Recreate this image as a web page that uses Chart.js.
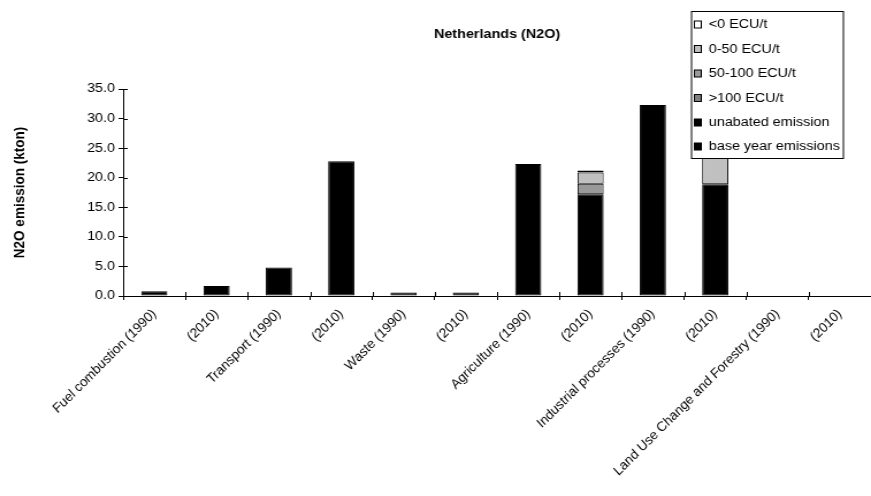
<!DOCTYPE html>
<html>
<head>
<meta charset="utf-8">
<script src="https://cdn.jsdelivr.net/npm/chart.js@4/dist/chart.umd.min.js"></script>
<style>
  html, body { margin: 0; padding: 0; background: #fff; }
  #wrap { position: relative; width: 871px; height: 496px; overflow: hidden; }
  /* the drawing surface is laid out narrower and shown at full width */
  #c { width: 871px; height: 496px; display: block; }
</style>
</head>
<body>
<div id="wrap"><canvas id="c" width="757" height="496" style="width:871px;height:496px"></canvas></div>
<script>
// Sector categories (base year 1990 and projection 2010)
const categories = [
  'Fuel combustion (1990)', '(2010)',
  'Transport (1990)', '(2010)',
  'Waste (1990)', '(2010)',
  'Agriculture (1990)', '(2010)',
  'Industrial processes (1990)', '(2010)',
  'Land Use Change and Forestry (1990)', '(2010)'
];

// N2O emissions, kton
const baseYearEmissions = [0.8, 0, 4.8, 0, 0.6, 0, 22.3, 0, 32.3, 0, 0, 0];
const unabatedEmission  = [0, 1.7, 0, 22.8, 0, 0.6, 0, 17.2, 0, 18.9, 0, 0];
const costOver100       = [0, 0, 0, 0, 0, 0, 0, 0, 0, 0, 0, 0];
const cost50to100       = [0, 0, 0, 0, 0, 0, 0, 1.8, 0, 0, 0, 0];
const cost0to50         = [0, 0, 0, 0, 0, 0, 0, 1.9, 0, 6.0, 0, 0];
const costBelow0        = [0, 0, 0, 0, 0, 0, 0, 0.3, 0, 0, 0, 0];

const yTicks = [0, 5, 10, 15, 20, 25, 30, 35];

const FONT = 'Liberation Sans, Arial, sans-serif';

function ds(label, data, color) {
  return {
    label, data,
    backgroundColor: color,
    borderColor: '#000',
    borderWidth: 1,
    borderSkipped: false,
    barPercentage: 0.42,
    categoryPercentage: 1.0,
    stack: 's'
  };
}

// Boxed legend drawn on top of the plot, upper right
const boxLegend = {
  id: 'boxLegend',
  afterDraw(chart) {
    const ctx = chart.ctx;
    const x = 601, y = 11.5, w = 132, h = 147;
    ctx.save();
    ctx.fillStyle = '#fff';
    ctx.fillRect(x, y, w, h);
    ctx.strokeStyle = '#000';
    ctx.lineWidth = 1;
    ctx.strokeRect(x, y, w, h);
    const items = chart.data.datasets.slice().reverse();
    const rowY = [24.5, 49, 73.5, 98, 122.5, 146.5];
    ctx.font = '12.5px ' + FONT;
    ctx.textBaseline = 'middle';
    items.forEach((d, i) => {
      const cy = rowY[i];
      ctx.fillStyle = d.backgroundColor;
      ctx.fillRect(603.5, cy - 3.5, 6, 7);
      ctx.strokeStyle = '#000';
      ctx.strokeRect(603.5, cy - 3.5, 6, 7);
      ctx.fillStyle = '#000';
      ctx.fillText(d.label, 616, cy + 0.5);
    });
    ctx.restore();
  }
};

// Tick marks that cross the axis lines
const crossTicks = {
  id: 'crossTicks',
  afterDatasetsDraw(chart) {
    const ctx = chart.ctx;
    const xs = chart.scales.x, ys = chart.scales.y;
    ctx.save();
    ctx.strokeStyle = '#000';
    ctx.lineWidth = 1;
    ctx.beginPath();
    yTicks.forEach(v => {
      const py = Math.round(ys.getPixelForValue(v)) + 0.5;
      ctx.moveTo(xs.left, py);
      ctx.lineTo(xs.left + 4, py);
    });
    for (let i = 1; i < categories.length; i++) {
      const px = Math.round((xs.getPixelForTick(i - 1) + xs.getPixelForTick(i)) / 2) + 0.5;
      ctx.moveTo(px, ys.bottom);
      ctx.lineTo(px, ys.bottom - 4);
    }
    ctx.stroke();
    ctx.restore();
  }
};

new Chart(document.getElementById('c'), {
  type: 'bar',
  data: {
    labels: categories,
    datasets: [
      ds('base year emissions', baseYearEmissions, '#000000'),
      ds('unabated emission', unabatedEmission, '#000000'),
      ds('>100 ECU/t', costOver100, '#808080'),
      ds('50-100 ECU/t', cost50to100, '#999999'),
      ds('0-50 ECU/t', cost0to50, '#c0c0c0'),
      ds('<0 ECU/t', costBelow0, '#ffffff')
    ]
  },
  options: {
    responsive: false,
    animation: false,
    devicePixelRatio: 1,
    layout: { padding: { left: 0, right: 0, top: 0, bottom: 0 } },
    plugins: {
      legend: { display: false },
      tooltip: { enabled: false },
      title: {
        display: true,
        fullSize: false,
        text: 'Netherlands (N2O)',
        color: '#000',
        font: { family: FONT, size: 12.5, weight: 'bold', lineHeight: 1.2 },
        padding: { top: 27.5, bottom: 46.5 }
      }
    },
    scales: {
      x: {
        stacked: true,
        offset: true,
        grid: {
          display: true,
          offset: true,
          drawOnChartArea: false,
          drawTicks: true,
          tickLength: 4,
          color: '#000',
          lineWidth: 1
        },
        border: { display: true, color: '#000', width: 1 },
        ticks: {
          color: '#000',
          autoSkip: false,
          maxRotation: 49,
          minRotation: 49,
          padding: 7,
          font: { family: FONT, size: 12.5, style: 'italic' }
        },
        afterFit(scale) { scale.height = 200; }
      },
      y: {
        stacked: true,
        min: 0,
        max: 35,
        afterBuildTicks(scale) { scale.ticks = yTicks.map(v => ({ value: v })); },
        grid: {
          drawOnChartArea: false,
          drawTicks: true,
          tickLength: 4,
          color: '#000'
        },
        border: { display: true, color: '#000', width: 1 },
        ticks: {
          color: '#000',
          padding: 3,
          font: { family: FONT, size: 12.5 },
          callback: v => Number(v).toFixed(1)
        },
        title: {
          display: true,
          text: 'N2O emission (kton)',
          color: '#000',
          font: { family: FONT, size: 13.5, weight: 'bold', lineHeight: 1.2 },
          padding: { top: 9, bottom: 0 }
        },
        afterFit(scale) { scale.width = 107; }
      }
    }
  },
  plugins: [crossTicks, boxLegend]
});
</script>
</body>
</html>
